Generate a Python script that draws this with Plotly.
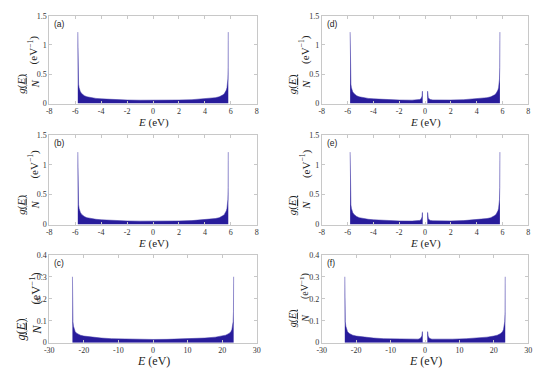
import plotly.graph_objects as go

# ---------------- data ----------------
E_ab = [-5.8, -5.79, -5.77, -5.74, -5.7, -5.65, -5.6, -5.5, -5.4, -5.3, -5.1, -4.8, -4.4, -4.0, -3.5, -3.0, -2.0, -1.0,
        0.0, 1.0, 2.0, 3.0, 3.5, 4.0, 4.4, 4.8, 5.1, 5.3, 5.4, 5.5, 5.6, 5.65, 5.7, 5.74, 5.77, 5.79, 5.8]
g_a = [1.22, 0.62, 0.42, 0.33, 0.27, 0.23, 0.2, 0.17, 0.15, 0.135, 0.115, 0.1, 0.088, 0.08, 0.072, 0.066, 0.06, 0.057,
       0.056, 0.057, 0.06, 0.066, 0.072, 0.08, 0.088, 0.1, 0.115, 0.135, 0.15, 0.17, 0.2, 0.23, 0.27, 0.33, 0.42, 0.62, 1.22]
g_b = [1.21, 0.62, 0.42, 0.33, 0.27, 0.23, 0.2, 0.17, 0.15, 0.135, 0.115, 0.1, 0.088, 0.08, 0.072, 0.066, 0.06, 0.057,
       0.056, 0.057, 0.06, 0.066, 0.072, 0.08, 0.088, 0.1, 0.115, 0.135, 0.15, 0.17, 0.2, 0.23, 0.27, 0.33, 0.42, 0.62, 1.21]

E_de = [-5.8, -5.79, -5.77, -5.74, -5.7, -5.65, -5.6, -5.5, -5.4, -5.3, -5.1, -4.8, -4.4, -4.0, -3.5, -3.0, -2.0, -1.0,
        -0.6, -0.4, -0.3, -0.25, -0.22, -0.2, -0.2, 0.2, 0.2, 0.22, 0.25, 0.3, 0.4, 0.6,
        1.0, 2.0, 3.0, 3.5, 4.0, 4.4, 4.8, 5.1, 5.3, 5.4, 5.5, 5.6, 5.65, 5.7, 5.74, 5.77, 5.79, 5.8]
g_d = [1.22, 0.62, 0.42, 0.33, 0.27, 0.23, 0.2, 0.17, 0.15, 0.135, 0.115, 0.1, 0.088, 0.08, 0.072, 0.066, 0.06, 0.058,
       0.062, 0.07, 0.085, 0.1, 0.13, 0.21, 0.0, 0.0, 0.21, 0.13, 0.1, 0.085, 0.07, 0.062,
       0.058, 0.06, 0.066, 0.072, 0.08, 0.088, 0.1, 0.115, 0.135, 0.15, 0.17, 0.2, 0.23, 0.27, 0.33, 0.42, 0.62, 1.22]
g_e = [1.21, 0.62, 0.42, 0.33, 0.27, 0.23, 0.2, 0.17, 0.15, 0.135, 0.115, 0.1, 0.088, 0.08, 0.072, 0.066, 0.06, 0.058,
       0.062, 0.07, 0.085, 0.1, 0.13, 0.2, 0.0, 0.0, 0.2, 0.13, 0.1, 0.085, 0.07, 0.062,
       0.058, 0.06, 0.066, 0.072, 0.08, 0.088, 0.1, 0.115, 0.135, 0.15, 0.17, 0.2, 0.23, 0.27, 0.33, 0.42, 0.62, 1.21]

E_c = [-23.3, -23.25, -23.15, -23.0, -22.8, -22.5, -22.0, -21.0, -20.0, -18.0, -15.0, -12.0, -8.0, -4.0,
       0.0, 4.0, 8.0, 12.0, 15.0, 18.0, 20.0, 21.0, 22.0, 22.5, 22.8, 23.0, 23.15, 23.25, 23.3]
g_c = [0.30, 0.14, 0.095, 0.075, 0.06, 0.05, 0.042, 0.034, 0.03, 0.025, 0.021, 0.018, 0.016, 0.015,
       0.0145, 0.015, 0.016, 0.018, 0.021, 0.025, 0.03, 0.034, 0.042, 0.05, 0.06, 0.075, 0.095, 0.14, 0.30]

E_f = [-23.3, -23.25, -23.15, -23.0, -22.8, -22.5, -22.0, -21.0, -20.0, -18.0, -15.0, -12.0, -8.0, -4.0,
       -2.0, -1.4, -1.1, -0.9, -0.75, -0.75, 0.75, 0.75, 0.9, 1.1, 1.4, 2.0,
       4.0, 8.0, 12.0, 15.0, 18.0, 20.0, 21.0, 22.0, 22.5, 22.8, 23.0, 23.15, 23.25, 23.3]
g_f = [0.30, 0.14, 0.095, 0.075, 0.06, 0.05, 0.042, 0.034, 0.03, 0.025, 0.021, 0.018, 0.016, 0.015,
       0.016, 0.019, 0.023, 0.03, 0.05, 0.0, 0.0, 0.05, 0.03, 0.023, 0.019, 0.016,
       0.015, 0.016, 0.018, 0.021, 0.025, 0.03, 0.034, 0.042, 0.05, 0.06, 0.075, 0.095, 0.14, 0.30]

ticks_small = [-8, -6, -4, -2, 0, 2, 4, 6, 8]
ticks_small_text = ["-8", "-6", "-4", "-2", "0", "2", "4", "6", "8"]
ticks_large = [-30, -20, -10, 0, 10, 20, 30]
ticks_large_text = ["-30", "-20", "-10", "0", "10", "20", "30"]
yticks_top = [0, 0.5, 1, 1.5]
yticks_top_text = ["0", "0.5", "1", "1.5"]
yticks_bot = [0, 0.1, 0.2, 0.3, 0.4]
yticks_bot_text = ["0", "0.1", "0.2", "0.3", "0.4"]
labels = ["(a)", "(b)", "(c)", "(d)", "(e)", "(f)"]

# ---------------- layout ----------------
W, H = 550, 374
FILL = "rgb(40,28,155)"
EDGE = "rgba(60,50,165,0.75)"
SERIF = "Liberation Serif"

cols = [(45, 256), (322, 532)]
rows = [(12, 102), (134, 226), (257, 347)]

panels = [
    (0, 0, E_ab, g_a, [-8, 8], ticks_small, ticks_small_text, [0, 1.5], yticks_top, yticks_top_text),
    (0, 1, E_ab, g_b, [-8, 8], ticks_small, ticks_small_text, [0, 1.5], yticks_top, yticks_top_text),
    (0, 2, E_c, g_c, [-30, 30], ticks_large, ticks_large_text, [0, 0.4], yticks_bot, yticks_bot_text),
    (1, 0, E_de, g_d, [-8, 8], ticks_small, ticks_small_text, [0, 1.5], yticks_top, yticks_top_text),
    (1, 1, E_de, g_e, [-8, 8], ticks_small, ticks_small_text, [0, 1.5], yticks_top, yticks_top_text),
    (1, 2, E_f, g_f, [-30, 30], ticks_large, ticks_large_text, [0, 0.4], yticks_bot, yticks_bot_text),
]

fig = go.Figure()
layout = dict(width=W, height=H, margin=dict(l=0, r=0, t=0, b=0),
              paper_bgcolor="white", plot_bgcolor="white", showlegend=False)
annotations = []

# y-title placement per panel: (frac_x, frac_y, unit_x, unit_y, size)
ytitle = {
    (0, 0): (23, 82, 29, 47, 11),
    (0, 1): (23, 206, 29, 164, 11),
    (0, 2): (24, 334, 30, 292, 12.5),
    (1, 0): (299, 82, 305, 47, 11),
    (1, 1): (299, 206, 305, 164, 11),
    (1, 2): (299, 322, 304, 289, 10),
}
xtitle_y = {0: 121, 1: 245, 2: 366}

for i, (c, r, E, g, xr, xt, xtt, yr, yt, ytt) in enumerate(panels):
    n = i + 1
    xa = "x" if n == 1 else f"x{n}"
    ya = "y" if n == 1 else f"y{n}"
    fig.add_trace(go.Scatter(x=E, y=g, mode="lines", fill="tozeroy", fillcolor=FILL,
                             line=dict(color=EDGE, width=0.7), xaxis=xa, yaxis=ya,
                             hoverinfo="skip"))
    x0, x1 = cols[c]
    y0, y1 = rows[r]
    common = dict(showline=True, mirror="ticks", linecolor="#c8c8c8", linewidth=1,
                  ticks="inside", ticklen=3, tickcolor="#c8c8c8", showgrid=False,
                  zeroline=False, tickfont=dict(family=SERIF, size=8, color="#333"),
                  fixedrange=True)
    layout["xaxis" if n == 1 else f"xaxis{n}"] = dict(
        common, domain=[x0 / W, x1 / W], range=xr, tickmode="array",
        tickvals=xt, ticktext=xtt, anchor=ya)
    layout["yaxis" if n == 1 else f"yaxis{n}"] = dict(
        common, domain=[1 - y1 / H, 1 - y0 / H], range=yr, tickmode="array",
        tickvals=yt, ticktext=ytt, anchor=xa)
    annotations.append(dict(text=labels[i], x=(x0 + 3) / W, y=1 - (y0 + 8) / H, xref="paper", yref="paper",
                            xanchor="left", yanchor="middle", showarrow=False,
                            font=dict(family="Liberation Sans", size=8.5, color="#222")))
    xs = 12 if r == 2 else 11
    annotations.append(dict(text="<i>E</i> (eV)", x=(x0 + x1) / 2 / W, y=1 - xtitle_y[r] / H,
                            xref="paper", yref="paper", xanchor="center", yanchor="middle",
                            showarrow=False, font=dict(family=SERIF, size=xs, color="#222")))
    fx, fy, ux, uy, fs = ytitle[(c, r)]
    annotations.append(dict(text="<u><i>g</i>(<i>E</i>)</u><br><i>N</i>", textangle=-90,
                            x=fx / W, y=1 - fy / H, xref="paper", yref="paper",
                            xanchor="center", yanchor="middle", showarrow=False,
                            font=dict(family=SERIF, size=fs, color="#222")))
    annotations.append(dict(text="(eV<sup>−1</sup>)", textangle=-90,
                            x=ux / W, y=1 - uy / H, xref="paper", yref="paper",
                            xanchor="center", yanchor="middle", showarrow=False,
                            font=dict(family=SERIF, size=fs, color="#222")))

layout["annotations"] = annotations
fig.update_layout(**layout)
fig.write_html("out.html", config={"displayModeBar": False},
               post_script="document.body.style.margin='0';document.body.style.overflow='hidden';")
